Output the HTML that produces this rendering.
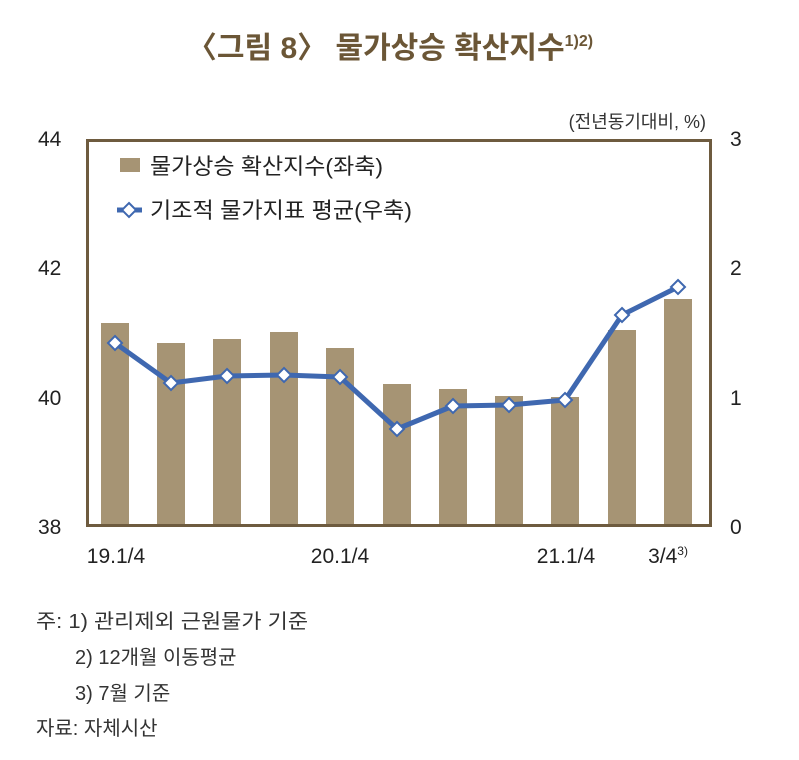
<!DOCTYPE html>
<html><head><meta charset="utf-8"><style>
body{margin:0;background:#fff;width:799px;height:755px;overflow:hidden;font-family:"Liberation Sans","Noto Sans CJK KR",sans-serif;}
</style></head><body>
<svg width="799" height="755" xmlns="http://www.w3.org/2000/svg" font-family="Liberation Sans, Noto Sans CJK KR, sans-serif">
<text x="390" y="58" text-anchor="middle" font-size="30" fill="#6b5636" font-weight="bold">〈그림 8〉 물가상승 확산지수<tspan font-size="16" dy="-12">1)2)</tspan></text>
<text x="706" y="128" text-anchor="end" font-size="18" fill="#333">(전년동기대비, %)</text>
<g font-size="21" fill="#222">
<text x="38" y="146">44</text><text x="38" y="275">42</text><text x="38" y="405">40</text><text x="38" y="534">38</text>
<text x="730" y="146">3</text><text x="730" y="275">2</text><text x="730" y="405">1</text><text x="730" y="534">0</text>
<text x="116" y="563" text-anchor="middle">19.1/4</text>
<text x="340" y="563" text-anchor="middle">20.1/4</text>
<text x="566" y="563" text-anchor="middle">21.1/4</text>
<text x="668" y="563" text-anchor="middle">3/4<tspan font-size="12" dy="-8">3)</tspan></text>
</g>
<g fill="#a69474">
<rect x="101" y="323" width="28" height="203"/>
<rect x="157" y="343" width="28" height="183"/>
<rect x="213" y="339" width="28" height="187"/>
<rect x="270" y="332" width="28" height="194"/>
<rect x="326" y="348" width="28" height="178"/>
<rect x="383" y="384" width="28" height="142"/>
<rect x="439" y="389" width="28" height="137"/>
<rect x="495" y="396" width="28" height="130"/>
<rect x="551" y="397" width="28" height="129"/>
<rect x="608" y="330" width="28" height="196"/>
<rect x="664" y="299" width="28" height="227"/>
</g>
<rect x="87.5" y="140.5" width="623" height="385" fill="none" stroke="#6e5b3f" stroke-width="3"/>
<polyline points="115,343 171,383 227,376 284,375 340,377 397,429 453,406 509,405 565,400 622,315 678,287" fill="none" stroke="#3f68b0" stroke-width="5" stroke-linejoin="round"/>
<g fill="#fff" stroke="#3f68b0" stroke-width="2">
<path d="M115,336 l7,7 l-7,7 l-7,-7z"/><path d="M171,376 l7,7 l-7,7 l-7,-7z"/><path d="M227,369 l7,7 l-7,7 l-7,-7z"/><path d="M284,368 l7,7 l-7,7 l-7,-7z"/><path d="M340,370 l7,7 l-7,7 l-7,-7z"/><path d="M397,422 l7,7 l-7,7 l-7,-7z"/><path d="M453,399 l7,7 l-7,7 l-7,-7z"/><path d="M509,398 l7,7 l-7,7 l-7,-7z"/><path d="M565,393 l7,7 l-7,7 l-7,-7z"/><path d="M622,308 l7,7 l-7,7 l-7,-7z"/><path d="M678,280 l7,7 l-7,7 l-7,-7z"/>
</g>
<rect x="120" y="158" width="20" height="14" fill="#a69474"/>
<text x="150" y="174" font-size="22" fill="#222" textLength="233" lengthAdjust="spacingAndGlyphs">물가상승 확산지수(좌축)</text>
<line x1="117" y1="210" x2="142" y2="210" stroke="#3f68b0" stroke-width="5"/>
<path d="M129,203 l7,7 l-7,7 l-7,-7z" fill="#fff" stroke="#3f68b0" stroke-width="2"/>
<text x="150" y="218" font-size="22" fill="#222" textLength="262" lengthAdjust="spacingAndGlyphs">기조적 물가지표 평균(우축)</text>
<g font-size="20" fill="#333">
<text x="36" y="628" textLength="272" lengthAdjust="spacingAndGlyphs">주: 1) 관리제외 근원물가 기준</text>
<text x="75" y="664">2) 12개월 이동평균</text>
<text x="75" y="700">3) 7월 기준</text>
<text x="36" y="735">자료: 자체시산</text>
</g>
</svg>
</body></html>
